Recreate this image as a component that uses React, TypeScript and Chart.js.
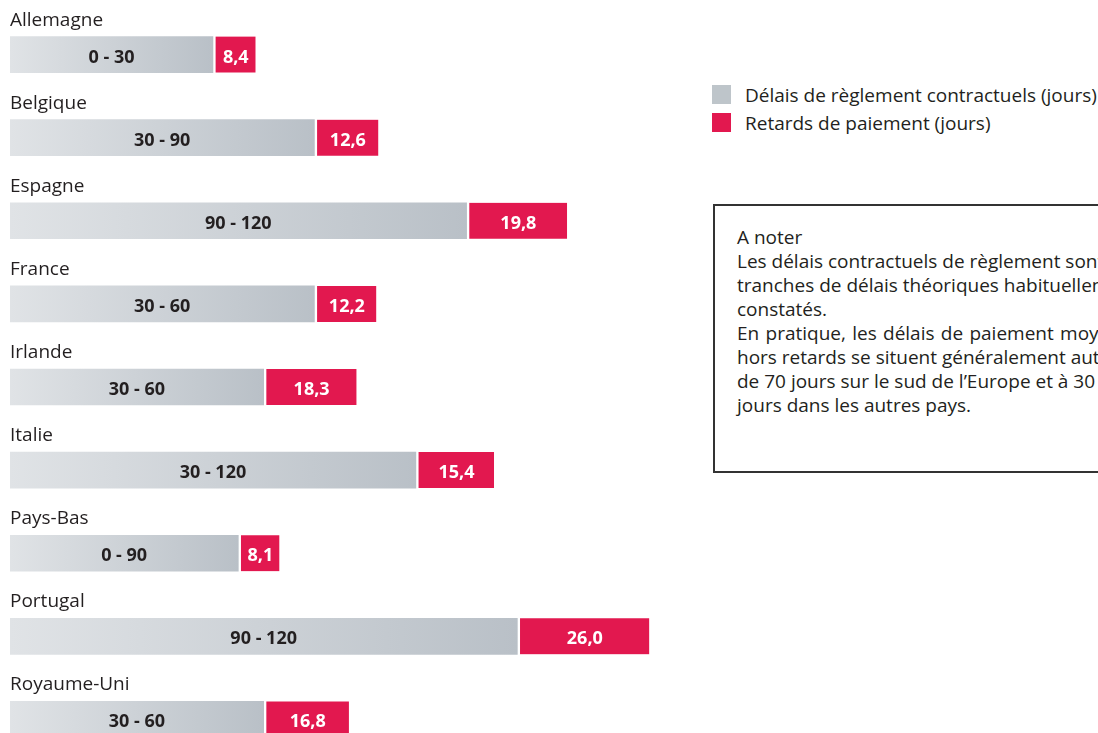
import React, { useEffect, useRef } from "react";
import { Chart, registerables } from "chart.js";

Chart.register(...registerables);

// ---------- data ----------
const countries = [
  "Allemagne",
  "Belgique",
  "Espagne",
  "France",
  "Irlande",
  "Italie",
  "Pays-Bas",
  "Portugal",
  "Royaume-Uni",
];
const contractualRanges = [
  "0 - 30",
  "30 - 90",
  "90 - 120",
  "30 - 60",
  "30 - 60",
  "30 - 120",
  "0 - 90",
  "90 - 120",
  "30 - 60",
];
// drawn length of the grey (contractual) bar, in days
const contractualBarLength = [40, 60, 90, 60, 50, 80, 45, 100, 50];
const paymentDelays = [8.4, 12.6, 19.8, 12.2, 18.3, 15.4, 8.1, 26.0, 16.8];
const delayLabels = paymentDelays.map((v) => v.toFixed(1).replace(".", ","));
const seriesNames = [
  "Délais de règlement contractuels (jours)",
  "Retards de paiement (jours)",
];
const noteTitle = "A noter";
const noteLines = [
  { text: "Les délais contractuels de règlement sont les", justify: true },
  { text: "tranches de délais théoriques habituellement", justify: true },
  { text: "constatés.", justify: false },
  { text: "En pratique, les délais de paiement moyens", justify: true },
  { text: "hors retards se situent généralement autour", justify: false },
  { text: "de 70 jours sur le sud de l\u2019Europe et à 30", justify: false },
  { text: "jours dans les autres pays.", justify: false },
];

// ---------- styles ----------
const TEXT = "#231f20";
const RED = "#e2184f";
const GREY_LIGHT = "#e0e3e6";
const GREY_DARK = "#b9c0c7";
const GREY_LEGEND = "#bec5ca";
const FONT = "'Open Sans', 'Noto Sans', sans-serif";

const labelPlugin = {
  id: "barLabels",
  afterDatasetsDraw(chart: any) {
    const ctx = chart.ctx;
    const m0 = chart.getDatasetMeta(0);
    const m1 = chart.getDatasetMeta(1);
    ctx.save();
    m0.data.forEach((el: any, i: number) => {
      const p = el.getProps(["x", "y", "base", "height"], true);
      const top = p.y - p.height / 2;
      ctx.textBaseline = "alphabetic";
      ctx.font = `19px ${FONT}`;
      ctx.fillStyle = TEXT;
      ctx.textAlign = "left";
      ctx.fillText(countries[i], chart.chartArea.left, top - 11);
      ctx.font = `bold 18px ${FONT}`;
      ctx.textAlign = "center";
      ctx.fillText(contractualRanges[i], (p.x + p.base) / 2, p.y + 8);
      const r = m1.data[i].getProps(["x", "base"], true);
      ctx.fillStyle = "#ffffff";
      ctx.fillText(delayLabels[i], (r.x + r.base + 3) / 2, p.y + 8);
    });
    ctx.restore();
  },
};

function BarChart() {
  const ref = useRef<HTMLCanvasElement | null>(null);
  useEffect(() => {
    if (!ref.current) return;
    const chart = new Chart(ref.current, {
      type: "bar",
      data: {
        labels: countries,
        datasets: [
          {
            label: seriesNames[0],
            data: contractualBarLength,
            borderWidth: 0,
            backgroundColor: (c: any) => {
              const chart = c.chart;
              const xs = chart.scales && chart.scales.x;
              if (!xs || c.type !== "data") return GREY_LEGEND;
              const x0 = xs.getPixelForValue(0);
              const x1 = xs.getPixelForValue(c.raw);
              if (!Number.isFinite(x0) || !Number.isFinite(x1)) return GREY_LEGEND;
              const g = chart.ctx.createLinearGradient(x0, 0, x1, 0);
              g.addColorStop(0, GREY_LIGHT);
              g.addColorStop(1, GREY_DARK);
              return g;
            },
          },
          {
            label: seriesNames[1],
            data: paymentDelays,
            backgroundColor: RED,
            borderColor: "#ffffff",
            borderWidth: { left: 3, right: 0, top: 0, bottom: 0 },
            borderSkipped: false,
          },
        ],
      },
      options: {
        indexAxis: "y",
        animation: false,
        responsive: false,
        maintainAspectRatio: false,
        barThickness: 36,
        layout: { padding: { left: 10, right: 0, top: 13, bottom: 19 } },
        scales: {
          x: { stacked: true, min: 0, max: 136, display: false },
          y: { stacked: true, display: false },
        },
        plugins: {
          legend: { display: false },
          tooltip: { enabled: false },
        },
      } as any,
      plugins: [labelPlugin],
    });
    return () => chart.destroy();
  }, []);
  return (
    <canvas
      ref={ref}
      width={700}
      height={780}
      style={{ position: "absolute", left: 0, top: 0, width: 700, height: 780 }}
    />
  );
}

export default function App() {
  const legendColors = [GREY_LEGEND, RED];
  return (
    <div
      style={{
        position: "absolute",
        left: 0,
        top: 0,
        width: 1098,
        height: 733,
        overflow: "hidden",
        background: "#ffffff",
        fontFamily: FONT,
        color: TEXT,
      }}
    >
      <BarChart />
      {seriesNames.map((name, i) => (
        <React.Fragment key={name}>
          <div
            style={{
              position: "absolute",
              left: 712,
              top: 85 + i * 28,
              width: 19,
              height: 19,
              background: legendColors[i],
            }}
          />
          <div
            style={{
              position: "absolute",
              left: 745,
              top: 83 + i * 28,
              fontSize: 19,
              lineHeight: "24px",
              whiteSpace: "nowrap",
            }}
          >
            {name}
          </div>
        </React.Fragment>
      ))}
      <div
        style={{
          position: "absolute",
          left: 713,
          top: 204,
          width: 450,
          height: 269,
          boxSizing: "border-box",
          border: "2px solid #333333",
          padding: "18.6px 0 0 22px",
          fontSize: 19,
          lineHeight: "24.1px",
        }}
      >
        <div style={{ width: 393, whiteSpace: "nowrap" }}>{noteTitle}</div>
        {noteLines.map((l, i) => (
          <div
            key={i}
            style={{
              width: 393,
              textAlign: l.justify ? "justify" : "left",
              textAlignLast: l.justify ? "justify" : "left",
              whiteSpace: "nowrap",
            } as any}
          >
            {l.text}
          </div>
        ))}
      </div>
    </div>
  );
}
